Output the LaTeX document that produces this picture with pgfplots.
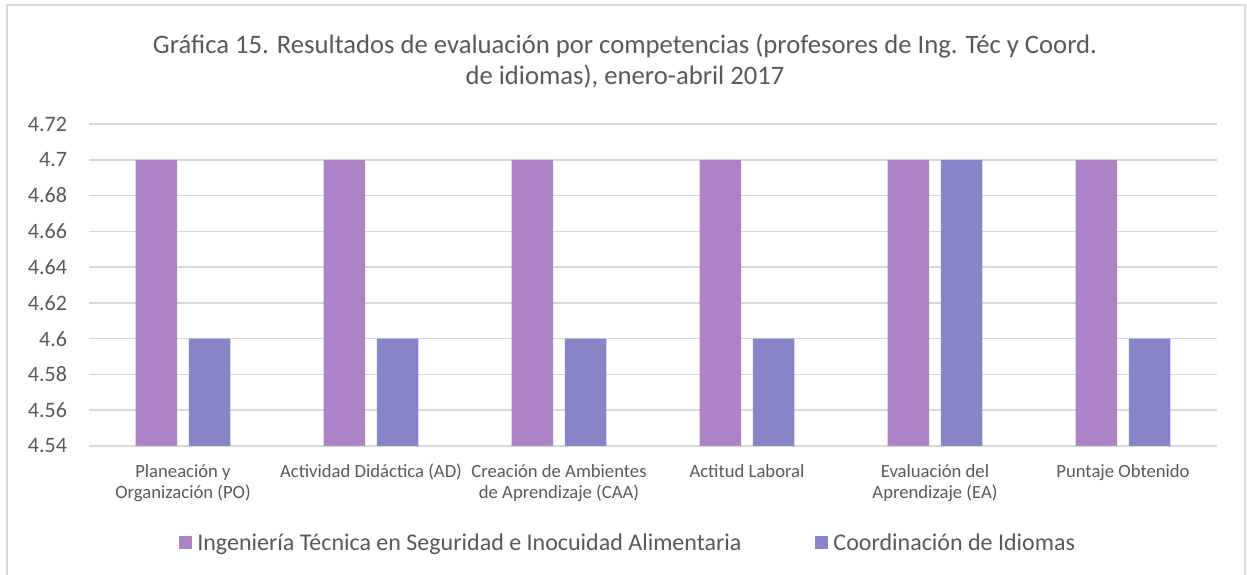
\documentclass[border=0pt]{standalone}
\usepackage{pgfplots}
\pgfplotsset{compat=1.18}
\usepackage{fontspec}
\setmainfont{Carlito}
\definecolor{ingpurple}{HTML}{AD84C6}
\definecolor{idiblue}{HTML}{8784C7}
\definecolor{gridgray}{HTML}{D9D9D9}
\definecolor{txtgray}{HTML}{595959}
\begin{document}
\begin{tikzpicture}[x=0.75pt,y=0.75pt]
% frame of the chart area (px units, y up)
\useasboundingbox (0,0) rectangle (1247,575);
\draw[gridgray, line width=1pt] (7,0) -- (7,570) -- (1245,570) -- (1245,0);
\begin{axis}[
    at={(66.75pt,96.75pt)}, anchor=south west,
    scale only axis,
    width=846pt, height=241.5pt,
    ybar=8.8pt, bar width=31.2pt,
    ymin=4.54, ymax=4.72,
    xmin=-0.5, xmax=5.5,
    xtick=data,
    xticklabels={Planeación y\\Organización (PO),
                 Actividad Didáctica (AD),
                 Creación de Ambientes\\de Aprendizaje (CAA),
                 Actitud Laboral,
                 Evaluación del\\Aprendizaje (EA),
                 Puntaje Obtenido},
    ytick={4.54,4.56,4.58,4.6,4.62,4.64,4.66,4.68,4.7,4.72},
    /pgf/number format/assume math mode=true,
    /pgf/number format/fixed,
    /pgf/number format/precision=2,
    major tick length=0pt,
    axis line style={draw=none},
    ymajorgrids,
    grid style={gridgray, line width=1.1pt},
    xticklabel style={align=center, font=\fontsize{14}{15.75}\selectfont, text=txtgray, yshift=-10pt},
    yticklabel style={font=\fontsize{16.5}{18}\selectfont, text=txtgray, xshift=-13pt},
    legend style={at={(0.478,-0.301)}, anchor=center, draw=none,
        font=\fontsize{18}{20}\selectfont, text=txtgray,
        legend columns=2,
        /tikz/every even column/.append style={column sep=53pt}},
    legend image code/.code={\fill[#1] (0pt,-4.9pt) rectangle (9.75pt,4.9pt); \path (12pt,0pt);},
]
\addplot[fill=ingpurple, draw=none] coordinates {
    (0,4.7) (1,4.7) (2,4.7) (3,4.7) (4,4.7) (5,4.7)
};
\addplot[fill=idiblue, draw=none] coordinates {
    (0,4.6) (1,4.6) (2,4.6) (3,4.6) (4,4.7) (5,4.6)
};
\legend{Ingeniería Técnica en Seguridad e Inocuidad Alimentaria, Coordinación de Idiomas}
\end{axis}
\node[align=center, text=txtgray, font=\fontsize{20}{23}\selectfont] at (625,514)
    {Gráfica 15. Resultados de evaluación por competencias (profesores de Ing. Téc y Coord.\\de idiomas), enero-abril 2017};
\end{tikzpicture}
\end{document}
